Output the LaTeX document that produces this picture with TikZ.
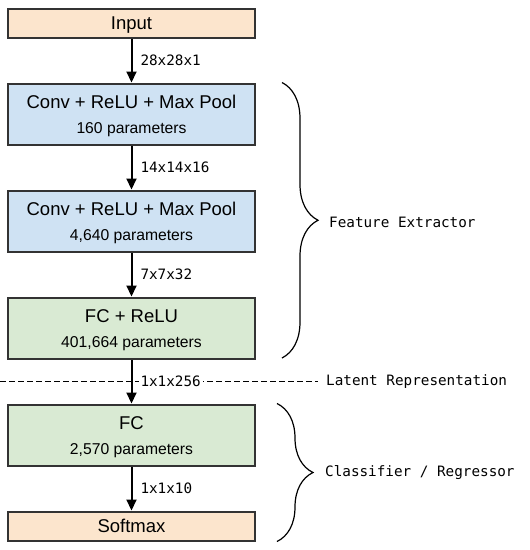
\documentclass[tikz,border=0pt]{standalone}
\usepackage{fontspec}
\setmainfont{Liberation Sans}
\setmonofont{DejaVu Sans Mono}
\usepackage{xcolor}
\usepackage{tikz}
\usetikzlibrary{arrows.meta, positioning, decorations.pathreplacing}

\definecolor{inorange}{HTML}{FCE5CD}
\definecolor{convblue}{HTML}{CFE2F3}
\definecolor{fcgreen}{HTML}{D9EAD3}
\definecolor{boxline}{HTML}{333333}

\newcommand{\bigtxt}{\fontsize{18.5}{25}\selectfont}
\newcommand{\smalltxt}{\fontsize{15.7}{25}\selectfont}
\newcommand{\monotxt}{\fontsize{14.3}{17}\selectfont\ttfamily}

\begin{document}
\begin{tikzpicture}[x=1pt,y=-1pt]
        \useasboundingbox (0,0) rectangle (530,550);
        \begin{scope}[every node/.style={draw=boxline,line width=2pt,rectangle,
            minimum width=247pt,align=center,font=\smalltxt,node distance=43.5pt,text depth=0pt}]
          \node[fill=inorange,minimum height=29pt] (input) at (131.5,23.5) {\bigtxt Input};
          \node[fill=convblue,minimum height=61.5pt,below=of input] (conv1)
            {{\bigtxt Conv + ReLU + Max Pool}\\160 parameters};
          \node[fill=convblue,minimum height=61.5pt,below=of conv1] (conv2)
            {{\bigtxt Conv + ReLU + Max Pool}\\4,640 parameters};
          \node[fill=fcgreen,minimum height=61.5pt,below=of conv2] (fc1)
            {{\bigtxt FC + ReLU}\\401,664 parameters};
          \node[fill=fcgreen,minimum height=61.5pt,below=of fc1] (fc2)
            {{\bigtxt FC}\\2,570 parameters};
          \node[fill=inorange,minimum height=29pt,below=of fc2] (softmax) {\bigtxt Softmax};
        \end{scope}
        % latent line
        \coordinate (latentstart) at (0,381.5);
        \node[anchor=west,font=\monotxt,inner sep=2pt] (latent) at (324,381.5) {Latent Representation};
        \draw[line width=0.8pt,dash pattern=on 6pt off 3pt] (latentstart) -- ([xshift=-6pt]latent.west);
        \begin{scope}[every edge/.style={draw=black,line width=2pt,-{Triangle[length=11pt,width=10pt]}},
            every node/.style={font=\monotxt,right,inner sep=2pt,xshift=6pt}]
          \path (input) edge node {28x28x1} (conv1);
          \path (conv1) edge node {14x14x16} (conv2);
          \path (conv2) edge node {7x7x32} (fc1);
          \path (fc1) edge node[fill=white] {1x1x256} (fc2);
          \path (fc2) edge node {1x1x10} (softmax);
        \end{scope}
        % braces
        \begin{scope}[every path/.style={draw,line width=1.2pt,decorate,decoration={brace,amplitude=36pt}}]
          \path ([xshift=26pt]conv1.north east) -- ([xshift=26pt,yshift=2pt]fc1.south east);
          \path ([xshift=21pt]fc2.north east) -- ([xshift=21pt]softmax.south east);
        \end{scope}
        \node[anchor=west,font=\monotxt,inner sep=2pt] (featlabel) at (327,222) {Feature Extractor};
        \node[anchor=west,font=\monotxt,inner sep=2pt] (classlabel) at (323,473) {Classifier / Regressor};
      \end{tikzpicture}
\end{document}
